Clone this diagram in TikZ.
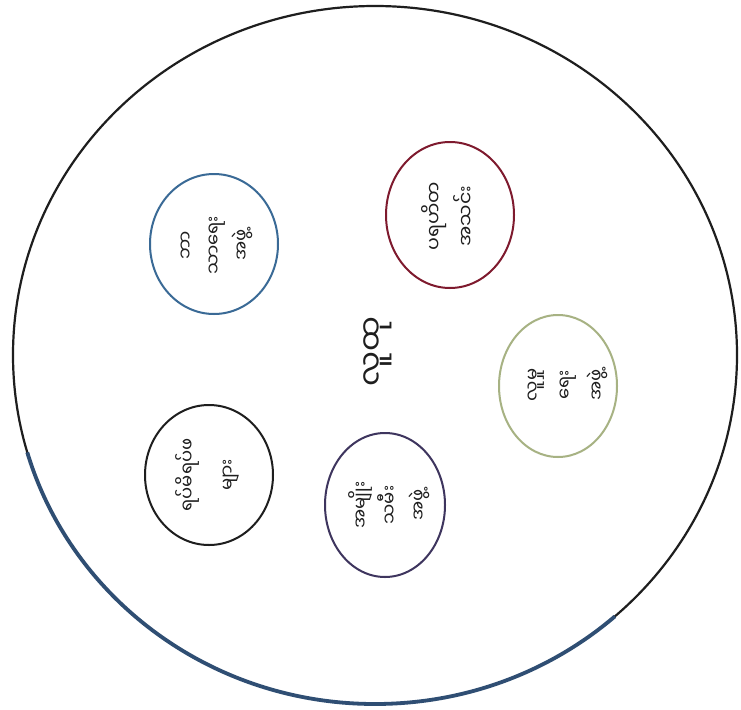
\documentclass[tikz,border=0pt]{standalone}
\usepackage{fontspec}
\usetikzlibrary{shapes.geometric}
\newfontfamily\mya[Script=Myanmar]{Noto Sans Myanmar UI}
\definecolor{cred}{HTML}{7E1A2E}
\definecolor{cblue}{HTML}{3A6A96}
\definecolor{cgreen}{HTML}{A7B283}
\definecolor{cpurple}{HTML}{3E355E}
\definecolor{cblack}{HTML}{1E1E1E}
\definecolor{cedge}{HTML}{2F4E73}
\begin{document}
\begin{tikzpicture}[x=1pt,y=-1pt,
  organelle/.style={ellipse, draw, line width=2pt, inner sep=0pt},
  lbl/.style={rotate=90, align=center, text=cblack, inner sep=0pt},
]
\useasboundingbox (0,0) rectangle (741,709);
\fill[white] (0,0) rectangle (741,709);
\node[ellipse, draw=cblack, line width=2.2pt, minimum width=724pt, minimum height=698pt, inner sep=0pt] (cell) at (375,355) {};
\begin{scope}
  \clip (375,355) -- (0,460) -- (0,709) -- (700,709) -- cycle;
  \draw[cedge, line width=3.8pt] (375,355) ellipse [x radius=362, y radius=349];
\end{scope}
\node[organelle, draw=cred, minimum width=128pt, minimum height=146pt] (red) at (450,215) {};
\node[organelle, draw=cblue, minimum width=128pt, minimum height=140pt] (blue) at (214,244) {};
\node[organelle, draw=cgreen, minimum width=118pt, minimum height=142pt] (green) at (558,386) {};
\node[organelle, draw=cpurple, minimum width=120pt, minimum height=144pt] (purple) at (385,505) {};
\node[organelle, draw=cblack, minimum width=128pt, minimum height=140pt] (black) at (209,475) {};
\node[lbl, font=\mya\fontsize{31}{31}\selectfont] (center) at (378,352) {လူထု};
\node[lbl, font=\mya\fontsize{19}{32}\selectfont] (redtxt) at (448,216) {ပရဟိတ\\အသင်း};
\node[lbl, font=\mya\fontsize{18}{28}\selectfont] (bluetxt) at (217,245) {ဘာ\\သာရေး\\အဖွဲ့};
\node[lbl, font=\mya\fontsize{18}{32}\selectfont] (greentxt) at (568,385) {လူမှု\\ရေး\\အဖွဲ့};
\node[lbl, font=\mya\fontsize{18}{29}\selectfont] (purpletxt) at (389,505) {အမျိုး\\သမီး\\အဖွဲ့};
\node[lbl, font=\mya\fontsize{18}{40}\selectfont] (blacktxt) at (207,475) {ရပ်မိရပ်ဖ\\များ};
\end{tikzpicture}
\end{document}
